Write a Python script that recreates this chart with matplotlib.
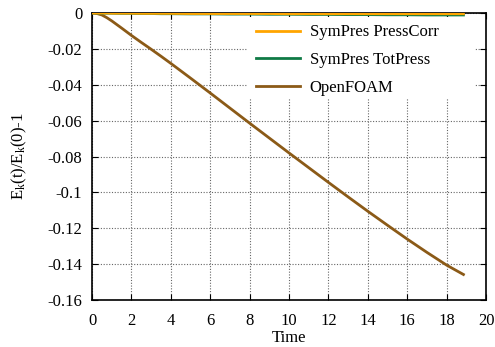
import matplotlib
matplotlib.use("Agg")
import matplotlib.pyplot as plt
from matplotlib.patches import Rectangle

plt.rcParams['font.family'] = ['Liberation Serif', 'DejaVu Serif']
plt.rcParams['mathtext.fontset'] = 'custom'
plt.rcParams['mathtext.rm'] = 'Liberation Serif'
plt.rcParams['mathtext.it'] = 'Liberation Serif:italic'

time = [0, 0.25, 0.5, 0.75, 1.0, 1.5, 2.0, 2.5, 3.0, 3.5, 4.0, 5.0, 6.0, 7.0, 8.0, 9.0, 10.0,
        11.0, 12.0, 13.0, 14.0, 15.0, 16.0, 17.0, 18.0, 18.85]
openfoam = [0, -0.0003, -0.0011, -0.0026, -0.0044, -0.0084, -0.0125, -0.0164, -0.0202,
            -0.0241, -0.0281, -0.0363, -0.0446, -0.0530, -0.0614, -0.0697, -0.0780,
            -0.0862, -0.0944, -0.1025, -0.1105, -0.1183, -0.1260, -0.1334, -0.1405, -0.1457]
presscorr = [0, 0, 0, 0, -0.0001, -0.0001, -0.0001, -0.0002, -0.0002, -0.0002, -0.0002,
             -0.0003, -0.0003, -0.0003, -0.0003, -0.0003, -0.0004, -0.0004, -0.0004,
             -0.0004, -0.0004, -0.0004, -0.0004, -0.0004, -0.0004, -0.0004]
totpress = [0, 0, -0.0001, -0.0001, -0.0001, -0.0002, -0.0002, -0.0003, -0.0003, -0.0004,
            -0.0004, -0.0005, -0.0005, -0.0006, -0.0006, -0.0007, -0.0007, -0.0008,
            -0.0008, -0.0009, -0.0009, -0.0010, -0.0010, -0.0011, -0.0011, -0.0011]

xticks = list(range(0, 21, 2))
yticks = [-0.16, -0.14, -0.12, -0.1, -0.08, -0.06, -0.04, -0.02, 0]
yticklabels = ['-0.16', '-0.14', '-0.12', '-0.1', '-0.08', '-0.06', '-0.04', '-0.02', '0']

fig = plt.figure(figsize=(4.95, 3.47), dpi=100)
ax = fig.add_axes([0.186, 0.135, 0.796, 0.8275])

ax.plot(time, presscorr, color='#ffa500', lw=2, label='SymPres PressCorr', zorder=4)
ax.plot(time, totpress, color='#0f7a45', lw=2, label='SymPres TotPress', zorder=3)
ax.plot(time, openfoam, color='#8b5a17', lw=2, label='OpenFOAM', zorder=2)

ax.set_xlim(0, 20)
ax.set_ylim(-0.16, 0)
ax.set_xticks(xticks)
ax.set_yticks(yticks)
ax.set_yticklabels(yticklabels)
ax.tick_params(direction='in', top=True, right=True, labelsize=12, length=4)
ax.tick_params(axis='x', pad=9)
ax.tick_params(axis='y', pad=7)
ax.grid(True, linestyle=(0, (1, 1.5)), color='#666666', lw=0.8)
for s in ax.spines.values():
    s.set_linewidth(1.2)

ax.set_xlabel('Time', fontsize=12, labelpad=1)
ax.set_ylabel(r'E$_\mathregular{k}$(t)/E$_\mathregular{k}$(0)-1', fontsize=12, labelpad=13)

# white key box (covers grid behind the legend)
ax.add_patch(Rectangle((0.393, 0.70), 0.578, 0.286, transform=ax.transAxes,
                       facecolor='white', edgecolor='none', zorder=1.8))

leg = ax.legend(loc='upper left', bbox_to_anchor=(0.415, 0.96), fontsize=12,
                frameon=False, handlelength=2.65, labelspacing=0.7,
                borderpad=0, borderaxespad=0, handletextpad=0.6)
leg.set_zorder(5)

fig.savefig('out.png', dpi=100)
